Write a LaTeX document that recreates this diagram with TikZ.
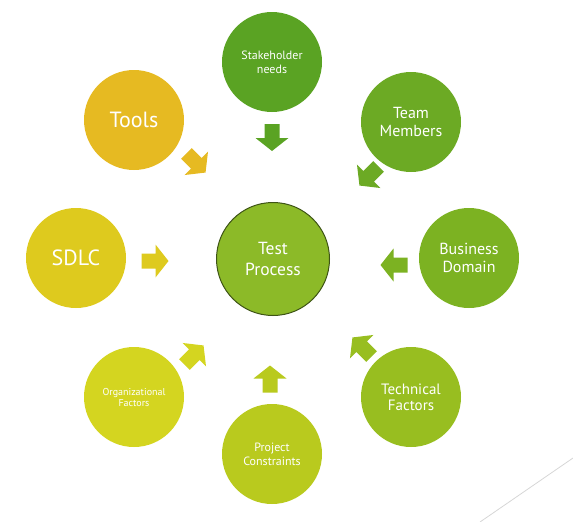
\documentclass[tikz,border=0pt]{standalone}
\usepackage{fontspec}
\setmainfont{PT Sans}
\definecolor{cStake}{RGB}{90,163,35}
\definecolor{cTeam}{RGB}{108,170,36}
\definecolor{cBiz}{RGB}{124,178,34}
\definecolor{cTech}{RGB}{152,190,32}
\definecolor{cProj}{RGB}{185,202,30}
\definecolor{cOrg}{RGB}{212,213,32}
\definecolor{cSdlc}{RGB}{222,202,30}
\definecolor{cTools}{RGB}{230,186,34}
\definecolor{cCore}{RGB}{140,186,40}
\definecolor{cCoreLine}{RGB}{62,84,22}
\definecolor{cRule}{RGB}{214,214,214}
\begin{document}
\begin{tikzpicture}[x=1pt,y=-1pt,
  bubble/.style={circle, minimum size=100pt, inner sep=0pt, text=white, align=center},
  fs/.style n args={2}{font=\fontsize{#1}{#2}\selectfont}]
  \useasboundingbox (0,0) rectangle (573,522);

  % centre circle
  \node[bubble, fill=cCore, draw=cCoreLine, line width=1pt, minimum size=113pt, fs={17.5}{21}] (core) at (273,259) {Test\\Process};

  % surrounding influences
  \node[bubble, fill=cStake, fs={12}{14}] (stake) at (272,62) {Stakeholder\\needs};
  \node[bubble, fill=cTeam, fs={16}{18}] (team) at (411,122) {Team\\Members};
  \node[bubble, fill=cBiz, fs={16}{18}] (biz) at (469,258) {Business\\Domain};
  \node[bubble, fill=cTech, fs={15}{16}] (tech) at (411,397) {Technical\\Factors};
  \node[bubble, fill=cProj, fs={12}{14}] (proj) at (272,454) {Project\\Constraints};
  \node[bubble, fill=cOrg, fs={10}{11}] (org) at (134,397) {Organizational\\Factors};
  \node[bubble, fill=cSdlc, fs={22}{26}] (sdlc) at (76,258) {SDLC};
  \node[bubble, fill=cTools, fs={22}{26}] (tools) at (134,120) {Tools};

  % block arrows pointing towards the centre
  \foreach \px/\py/\ang/\col in {272/137.5/-90/cStake, 369/176/225/cTeam,
      394/265/180/cBiz, 362/347/135/cTech, 270/379/90/cProj,
      194/355/45/cOrg, 155/261/0/cSdlc, 196/163/-45/cTools}{
    \fill[\col, shift={(\px,\py)}, rotate=\ang]
      (-13.5,-7.5) -- (0.5,-7.5) -- (0.5,-16.5) -- (13.5,0)
      -- (0.5,16.5) -- (0.5,7.5) -- (-13.5,7.5) -- cycle;
  }

  % thin rule in the lower right corner
  \coordinate (ruleA) at (480,522);
  \coordinate (ruleB) at (573,458);
  \draw[cRule, line width=0.8pt] (ruleA) -- (ruleB);
\end{tikzpicture}
\end{document}
